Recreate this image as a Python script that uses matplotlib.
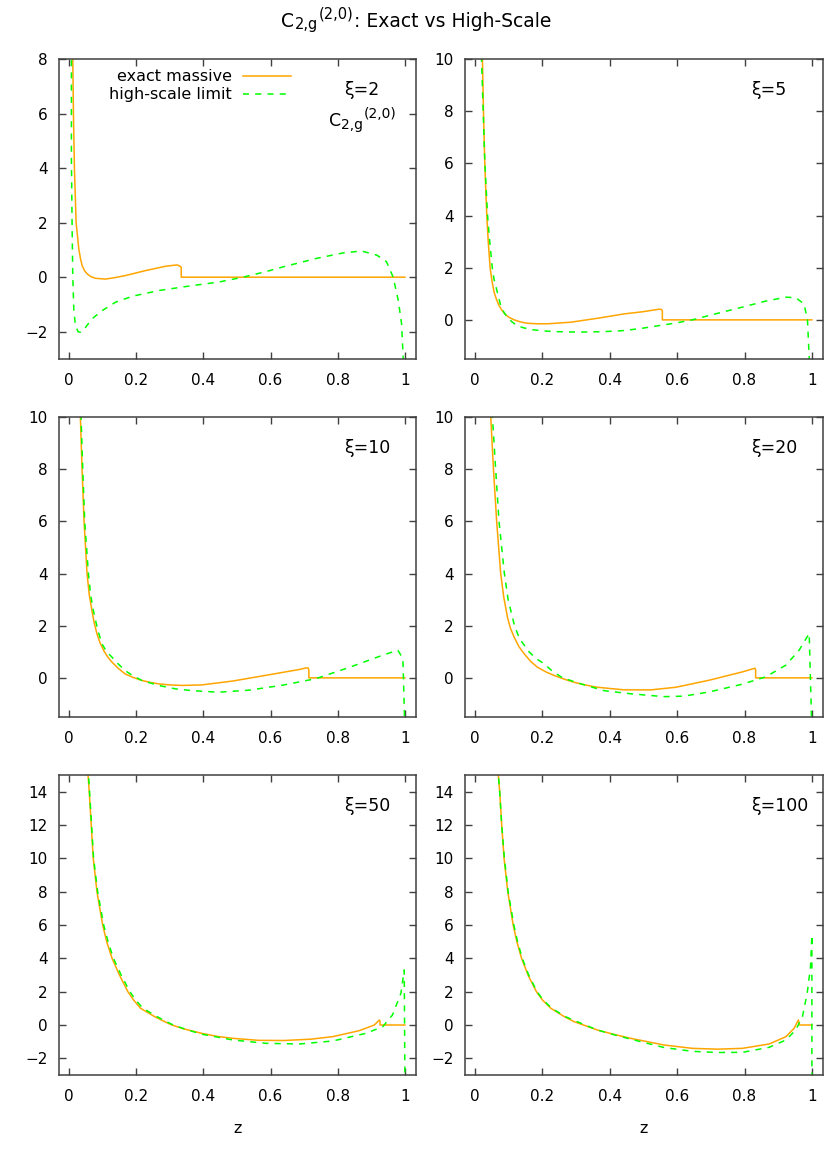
import matplotlib.pyplot as plt

plt.rcParams['font.family'] = ['DejaVu Sans']

# xi values of the six panels
xis = [2, 5, 10, 20, 50, 100]

# exact massive
z_ex_2 = [0.009, 0.011, 0.013, 0.016, 0.021, 0.029, 0.034, 0.039, 0.046, 0.054, 0.065, 0.078, 0.108, 0.135, 0.168, 0.227, 0.287, 0.321, 0.328, 0.334, 0.334, 1.0]
c_ex_2 = [10.0, 8.0, 6.0, 3.96, 2.0, 1.03, 0.68, 0.42, 0.24, 0.12, 0.02, -0.04, -0.07, -0.02, 0.06, 0.24, 0.40, 0.45, 0.42, 0.36, 0.0, 0.0]
z_ex_5 = [0.018, 0.0218, 0.0248, 0.0287, 0.0347, 0.039, 0.0446, 0.050, 0.0564, 0.063, 0.071, 0.080, 0.091, 0.103, 0.116, 0.135, 0.155, 0.185, 0.215, 0.250, 0.284, 0.363, 0.443, 0.497, 0.547, 0.553, 0.556, 0.556, 1.0]
c_ex_5 = [12.0, 10.0, 8.0, 6.0, 4.0, 3.0, 2.0, 1.5, 1.06, 0.80, 0.55, 0.36, 0.19, 0.08, 0.0, -0.08, -0.13, -0.15, -0.15, -0.12, -0.09, 0.06, 0.23, 0.31, 0.41, 0.40, 0.35, 0.0, 0.0]
z_ex_10 = [0.030, 0.0337, 0.0387, 0.0446, 0.0535, 0.060, 0.068, 0.075, 0.083, 0.092, 0.103, 0.115, 0.128, 0.145, 0.167, 0.190, 0.217, 0.240, 0.267, 0.300, 0.336, 0.395, 0.445, 0.488, 0.587, 0.685, 0.705, 0.712, 0.714, 0.714, 1.0]
c_ex_10 = [12.0, 10.0, 8.0, 6.0, 4.0, 3.2, 2.58, 2.1, 1.69, 1.35, 1.05, 0.80, 0.60, 0.38, 0.15, 0.02, -0.10, -0.17, -0.23, -0.27, -0.29, -0.27, -0.19, -0.12, 0.10, 0.32, 0.38, 0.38, 0.30, 0.0, 0.0]
z_ex_20 = [0.040, 0.0465, 0.0545, 0.064, 0.076, 0.085, 0.096, 0.105, 0.116, 0.130, 0.146, 0.165, 0.185, 0.210, 0.235, 0.265, 0.294, 0.330, 0.363, 0.443, 0.522, 0.596, 0.695, 0.794, 0.831, 0.833, 0.833, 1.0]
c_ex_20 = [13.0, 10.0, 8.0, 6.0, 4.0, 3.1, 2.33, 1.9, 1.56, 1.2, 0.92, 0.63, 0.41, 0.23, 0.09, -0.05, -0.17, -0.28, -0.36, -0.46, -0.46, -0.36, -0.09, 0.23, 0.37, 0.30, 0.0, 0.0]
z_ex_50 = [0.053, 0.0565, 0.060, 0.066, 0.072, 0.083, 0.100, 0.112, 0.128, 0.150, 0.175, 0.192, 0.213, 0.255, 0.285, 0.306, 0.345, 0.395, 0.440, 0.488, 0.564, 0.640, 0.720, 0.785, 0.864, 0.909, 0.924, 0.926, 0.926, 1.0]
c_ex_50 = [17.0, 15.0, 14.0, 12.0, 10.0, 8.0, 6.0, 5.0, 4.0, 3.0, 2.0, 1.5, 1.0, 0.5, 0.2, 0.0, -0.25, -0.5, -0.68, -0.8, -0.92, -0.93, -0.85, -0.70, -0.34, 0.0, 0.30, 0.20, 0.0, 0.0]
z_ex_100 = [0.066, 0.069, 0.073, 0.079, 0.086, 0.097, 0.113, 0.124, 0.138, 0.157, 0.182, 0.200, 0.225, 0.265, 0.294, 0.363, 0.410, 0.462, 0.561, 0.645, 0.720, 0.794, 0.873, 0.923, 0.947, 0.960, 0.962, 0.962, 1.0]
c_ex_100 = [17.0, 15.0, 14.0, 12.0, 10.0, 8.0, 6.0, 5.0, 4.0, 3.0, 2.0, 1.5, 1.0, 0.5, 0.2, -0.3, -0.55, -0.8, -1.2, -1.4, -1.45, -1.40, -1.14, -0.70, -0.20, 0.30, 0.10, 0.0, 0.0]

# high-scale limit
z_hs_2 = [0.006, 0.007, 0.007, 0.009, 0.011, 0.014, 0.019, 0.027, 0.034, 0.049, 0.068, 0.098, 0.138, 0.188, 0.267, 0.366, 0.445, 0.518, 0.585, 0.638, 0.737, 0.816, 0.871, 0.916, 0.945, 0.965, 0.980, 0.990, 0.997]
c_hs_2 = [12.0, 8.0, 4.3, 1.9, 0.05, -1.17, -1.78, -2.0, -2.02, -1.84, -1.53, -1.23, -0.92, -0.70, -0.49, -0.31, -0.18, 0.0, 0.2, 0.38, 0.69, 0.89, 0.96, 0.81, 0.57, 0.0, -0.84, -1.7, -3.5]
z_hs_5 = [0.016, 0.019, 0.024, 0.029, 0.037, 0.042, 0.0465, 0.051, 0.056, 0.066, 0.076, 0.086, 0.096, 0.108, 0.121, 0.140, 0.165, 0.200, 0.235, 0.314, 0.383, 0.443, 0.497, 0.596, 0.645, 0.695, 0.794, 0.863, 0.923, 0.952, 0.977, 0.987, 0.992, 0.995]
c_hs_5 = [12.0, 10.0, 8.0, 6.0, 4.0, 3.2, 2.6, 2.0, 1.57, 1.06, 0.55, 0.28, 0.10, -0.06, -0.19, -0.29, -0.37, -0.42, -0.45, -0.47, -0.45, -0.41, -0.32, -0.12, 0.0, 0.17, 0.49, 0.72, 0.87, 0.85, 0.61, -0.03, -1.43, -3.0]
z_hs_10 = [0.031, 0.0357, 0.0407, 0.0466, 0.0575, 0.064, 0.072, 0.085, 0.098, 0.112, 0.128, 0.145, 0.167, 0.190, 0.217, 0.267, 0.316, 0.366, 0.445, 0.537, 0.636, 0.735, 0.834, 0.934, 0.979, 0.994, 0.999]
c_hs_10 = [12.0, 10.0, 8.0, 6.0, 4.0, 3.2, 2.6, 1.85, 1.3, 1.0, 0.79, 0.55, 0.28, 0.08, -0.10, -0.29, -0.42, -0.49, -0.55, -0.47, -0.28, -0.03, 0.40, 0.87, 1.06, 0.74, -1.6]
z_hs_20 = [0.045, 0.0515, 0.061, 0.071, 0.087, 0.098, 0.117, 0.132, 0.160, 0.180, 0.205, 0.230, 0.260, 0.314, 0.383, 0.462, 0.561, 0.620, 0.695, 0.794, 0.863, 0.923, 0.962, 0.992, 0.999]
c_hs_20 = [13.0, 10.0, 8.0, 6.0, 4.0, 3.0, 2.0, 1.5, 1.0, 0.75, 0.54, 0.25, 0.0, -0.23, -0.49, -0.61, -0.72, -0.70, -0.54, -0.24, 0.04, 0.49, 1.06, 1.7, -1.6]
z_hs_50 = [0.054, 0.058, 0.061, 0.067, 0.073, 0.085, 0.103, 0.116, 0.132, 0.155, 0.181, 0.198, 0.220, 0.262, 0.290, 0.310, 0.350, 0.395, 0.488, 0.587, 0.686, 0.785, 0.884, 0.934, 0.963, 0.988, 0.998, 1.0]
c_hs_50 = [17.0, 15.0, 14.0, 12.0, 10.0, 8.0, 6.0, 5.0, 4.0, 3.0, 2.0, 1.5, 1.0, 0.5, 0.2, 0.0, -0.28, -0.55, -0.90, -1.10, -1.14, -0.96, -0.50, -0.10, 0.60, 1.90, 3.30, -3.5]
z_hs_100 = [0.066, 0.069, 0.073, 0.079, 0.087, 0.098, 0.115, 0.126, 0.140, 0.159, 0.184, 0.202, 0.228, 0.268, 0.297, 0.363, 0.410, 0.462, 0.561, 0.645, 0.720, 0.794, 0.873, 0.923, 0.952, 0.972, 0.986, 0.996, 1.0, 1.0]
c_hs_100 = [17.0, 15.0, 14.0, 12.0, 10.0, 8.0, 6.0, 5.0, 4.0, 3.0, 2.0, 1.5, 1.0, 0.5, 0.25, -0.3, -0.57, -0.85, -1.35, -1.58, -1.65, -1.64, -1.34, -0.90, -0.30, 0.50, 1.90, 3.50, 5.40, -3.5]

exact = [(z_ex_2, c_ex_2), (z_ex_5, c_ex_5), (z_ex_10, c_ex_10),
         (z_ex_20, c_ex_20), (z_ex_50, c_ex_50), (z_ex_100, c_ex_100)]
highscale = [(z_hs_2, c_hs_2), (z_hs_5, c_hs_5), (z_hs_10, c_hs_10),
             (z_hs_20, c_hs_20), (z_hs_50, c_hs_50), (z_hs_100, c_hs_100)]

ylims = [(-3, 8), (-1.5, 10), (-1.5, 10), (-1.5, 10), (-3, 15), (-3, 15)]
yticks = [range(-2, 9, 2), range(0, 11, 2), range(0, 11, 2),
          range(0, 11, 2), range(-2, 15, 2), range(-2, 15, 2)]

W, H = 830, 1155
fig = plt.figure(figsize=(W / 100, H / 100), dpi=100)

lefts = [59, 465]
widths = [357, 358]
tops = [59, 417, 775]
ph = 300

orange = '#ffa500'
green = '#00ff00'
frame = '#404040'
dash = (0, (4, 4))


def c2g(ax, x, y, transform, size, subsize):
    # C_{2,g}^{(2,0)} written the gnuplot way: big C, small sub and superscript
    c = ax.text(x, y, 'C', transform=transform, fontsize=size, ha='left', va='baseline')
    sub = ax.annotate('2,g', xy=(1, 0), xycoords=c, xytext=(0.3, 1.2),
                      textcoords='offset points', fontsize=subsize, va='baseline',
                      annotation_clip=False)
    sup = ax.annotate('(2,0)', xy=(1, 0), xycoords=(sub, c), xytext=(0.6, 9.0),
                      textcoords='offset points', fontsize=subsize, va='baseline',
                      annotation_clip=False)
    return c, sub, sup


axes = []
for i, xi in enumerate(xis):
    r, col = divmod(i, 2)
    ax = fig.add_axes([lefts[col] / W, 1 - (tops[r] + ph) / H, widths[col] / W, ph / H])
    axes.append(ax)
    ze, ce = exact[i]
    zh, ch = highscale[i]
    ax.plot(ze, ce, color=orange, lw=1.1, label='exact massive')
    ax.plot(zh, ch, color=green, lw=1.1, ls=dash, label='high-scale limit')
    ax.set_xlim(-0.03, 1.033)
    ax.set_ylim(*ylims[i])
    ax.set_xticks([0, 0.2, 0.4, 0.6, 0.8, 1])
    ax.set_xticklabels(['0', '0.2', '0.4', '0.6', '0.8', '1'])
    ax.set_yticks(list(yticks[i]))
    ax.tick_params(direction='in', length=5, width=1, color=frame, labelsize=11,
                   top=True, right=True, pad=8, labelcolor='#000000')
    ax.tick_params(axis='x', pad=10)
    for s in ax.spines.values():
        s.set_color(frame)
        s.set_linewidth(1.1)
    ax.text(0.80, 0.897, 'ξ=%d' % xi, transform=ax.transAxes, fontsize=12.5,
            ha='left', va='center')
    if i == 0:
        c2g(ax, 0.755, 0.775, ax.transAxes, 12.5, 10)
        # gnuplot style key: text right aligned, sample to the right
        for k, (lab, colr, ls) in enumerate([('exact massive', orange, '-'),
                                               ('high-scale limit', green, dash)]):
            yk = 0.943 - k * 0.06
            ax.text(0.485, yk, lab, transform=ax.transAxes, fontsize=11.5,
                    ha='right', va='center')
            ax.plot([0.515, 0.650], [yk, yk], transform=ax.transAxes, color=colr,
                    lw=1.1, ls=ls)
    if r == 2:
        ax.set_xlabel('z', fontsize=11.5, labelpad=12)

# title
c, sub, sup = c2g(axes[0], 281 / W, 1 - 27 / H, fig.transFigure, 13.5, 10.5)
axes[0].annotate(': Exact vs High-Scale', xy=(1, 0), xycoords=(sup, c),
                 xytext=(0.3, 0), textcoords='offset points', fontsize=13.5,
                 va='bottom', annotation_clip=False)

fig.savefig('out.png', dpi=100)
